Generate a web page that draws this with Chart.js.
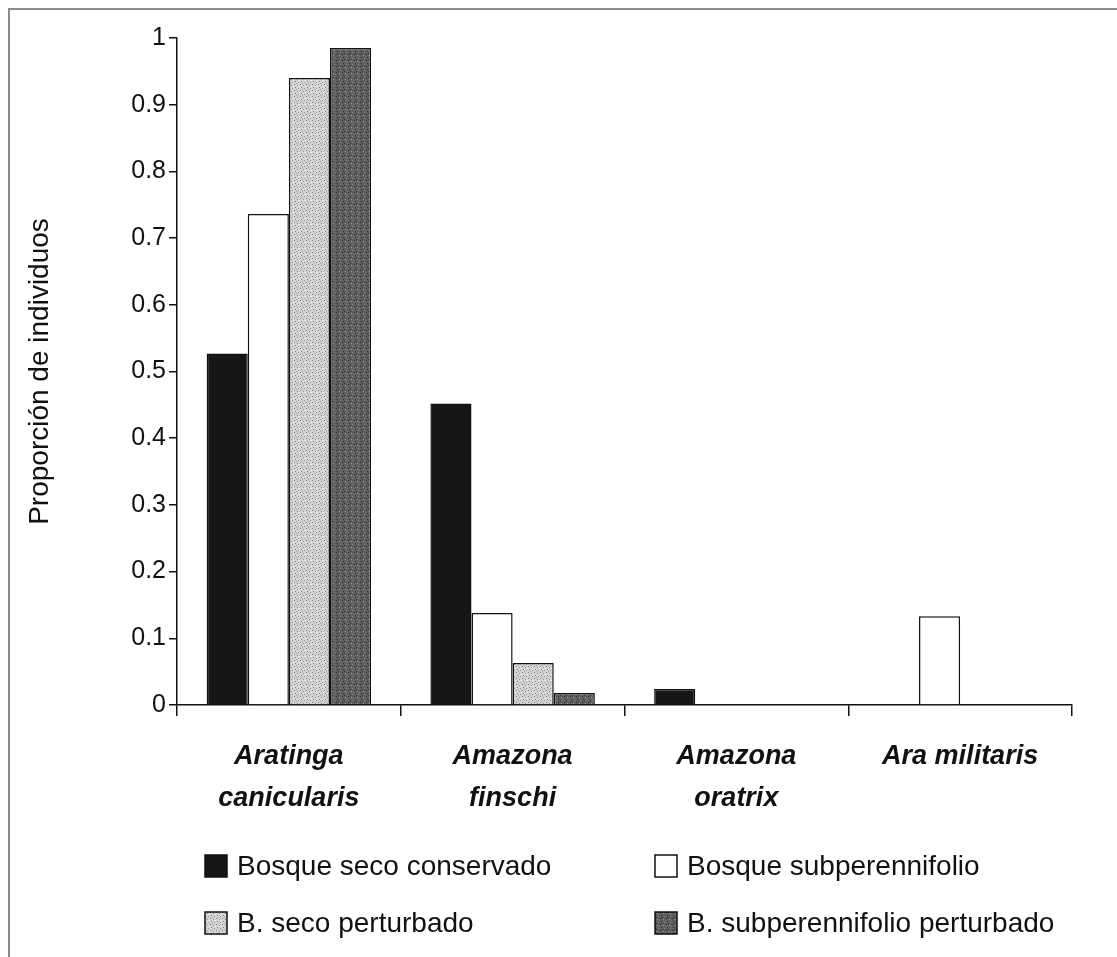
<!DOCTYPE html>
<html>
<head>
<meta charset="utf-8">
<script src="https://cdn.jsdelivr.net/npm/chart.js@4/dist/chart.umd.min.js"></script>
<style>
  html, body { margin: 0; padding: 0; background: #fff; }
  #wrap { position: relative; width: 1117px; height: 957px; overflow: hidden; }
  #frame { position: absolute; left: 8px; top: 8px; width: 1200px; height: 1000px;
           border-left: 2px solid #8a8a8a; border-top: 2px solid #8a8a8a; }
  canvas { position: absolute; left: 0; top: 0; }
</style>
</head>
<body>
<div id="wrap">
  <div id="frame"></div>
  <canvas id="c" width="1117" height="957"></canvas>
</div>
<script>
// Species (x categories)
const species = [
  ['Aratinga', 'canicularis'],
  ['Amazona', 'finschi'],
  ['Amazona', 'oratrix'],
  'Ara militaris'
];

// Proportion of individuals per habitat type
const bosqueSecoConservado      = [0.527, 0.452, 0.024, 0];
const bosqueSubperennifolio     = [0.736, 0.138, 0, 0.133];
const bSecoPerturbado           = [0.940, 0.063, 0, 0];
const bSubperennifolioPerturb   = [0.985, 0.018, 0, 0];

const seriesNames = [
  'Bosque seco conservado',
  'Bosque subperennifolio',
  'B. seco perturbado',
  'B. subperennifolio perturbado'
];

const yTickLabels = ['0', '0.1', '0.2', '0.3', '0.4', '0.5', '0.6', '0.7', '0.8', '0.9', '1'];

// Stippled fills for the two "perturbado" series
function stipple(bg, dots) {
  const p = document.createElement('canvas');
  p.width = 6; p.height = 6;
  const g = p.getContext('2d');
  g.fillStyle = bg; g.fillRect(0, 0, 6, 6);
  dots.forEach(([x, y, col]) => { g.fillStyle = col; g.fillRect(x, y, 1, 1); });
  return g.createPattern(p, 'repeat');
}
const ctx = document.getElementById('c').getContext('2d');
const lightFill = stipple('#d4d4d4', [[0,0,'#7a7a7a'],[3,1,'#8c8c8c'],[1,3,'#7a7a7a'],[4,4,'#909090'],[2,5,'#a0a0a0'],[5,2,'#f0f0f0']]);
const darkFill  = stipple('#5e5e5e', [[0,0,'#2a2a2a'],[3,1,'#9a9a9a'],[1,3,'#333333'],[4,4,'#8a8a8a'],[2,5,'#2e2e2e'],[5,2,'#7a7a7a']]);
const fills = ['#161616', '#ffffff', lightFill, darkFill];

// Two-column legend drawn beneath the axis
const legendPlugin = {
  id: 'twoColLegend',
  afterDraw(chart) {
    const g = chart.ctx;
    const slots = [
      { x: 205, y: 866 }, { x: 655, y: 866 },
      { x: 205, y: 923 }, { x: 655, y: 923 }
    ];
    g.save();
    g.font = '28px "Liberation Sans", Arial, sans-serif';
    g.textBaseline = 'middle';
    g.fillStyle = '#111';
    seriesNames.forEach((name, i) => {
      const s = slots[i];
      g.fillStyle = fills[i];
      g.fillRect(s.x, s.y - 11, 22, 22);
      g.strokeStyle = '#111'; g.lineWidth = 1.5;
      g.strokeRect(s.x, s.y - 11, 22, 22);
      g.fillStyle = '#111';
      g.fillText(name, s.x + 32, s.y + 1);
    });
    g.restore();
  }
};

const datasets = [bosqueSecoConservado, bosqueSubperennifolio, bSecoPerturbado, bSubperennifolioPerturb]
  .map((vals, i) => ({
    label: seriesNames[i],
    data: vals,
    backgroundColor: fills[i],
    borderColor: '#111',
    borderWidth: 1.5,
    borderSkipped: 'bottom',
    categoryPercentage: 0.735,
    barPercentage: 1.0
  }));

new Chart(ctx, {
  type: 'bar',
  data: { labels: species, datasets },
  options: {
    responsive: false,
    animation: false,
    devicePixelRatio: 1,
    layout: { padding: { top: 38, left: 0, right: 45, bottom: 0 } },
    plugins: { legend: { display: false }, tooltip: { enabled: false } },
    scales: {
      x: {
        grid: { display: true, offset: true, drawOnChartArea: false, drawTicks: true,
                tickLength: 11, color: '#111', lineWidth: 1.5 },
        border: { color: '#111', width: 1.5 },
        ticks: {
          color: '#111',
          maxRotation: 0,
          autoSkip: false,
          padding: 20,
          font: { family: '"Liberation Sans", Arial, sans-serif', size: 27, style: 'italic', weight: 'bold', lineHeight: 1.55 }
        },
        afterFit(scale) { scale.height = 252; }
      },
      y: {
        min: 0, max: 1,
        grid: { display: true, drawOnChartArea: false, drawTicks: true,
                tickLength: 8, color: '#111', lineWidth: 1.5 },
        border: { color: '#111', width: 1.5 },
        ticks: {
          stepSize: 0.1,
          color: '#111',
          padding: 3,
          font: { family: '"Liberation Sans", Arial, sans-serif', size: 25 },
          callback: (v, i) => yTickLabels[i]
        },
        title: {
          display: true,
          text: 'Proporción de individuos',
          color: '#111',
          padding: { top: 23, bottom: 0 },
          font: { family: '"Liberation Sans", Arial, sans-serif', size: 28 }
        },
        afterFit(scale) { scale.width = 177; }
      }
    }
  },
  plugins: [legendPlugin]
});
</script>
</body>
</html>
